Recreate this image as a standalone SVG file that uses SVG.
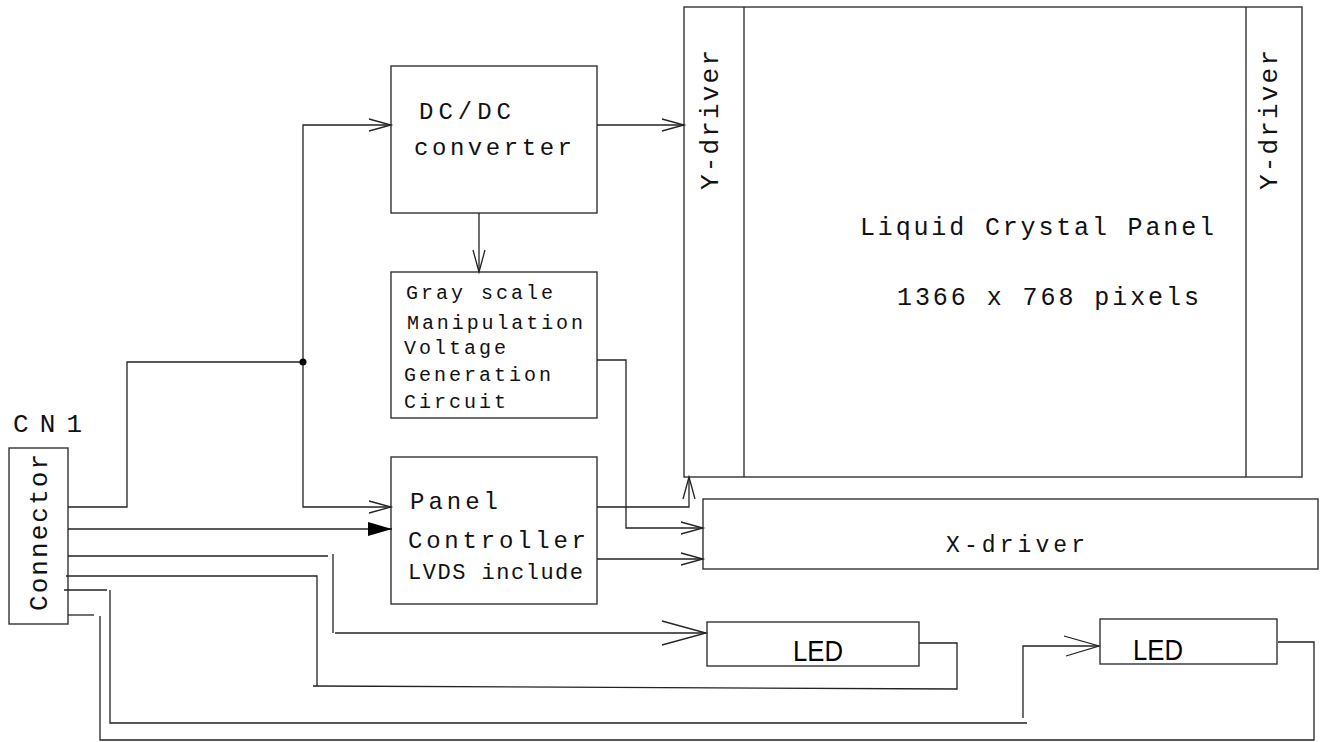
<svg xmlns="http://www.w3.org/2000/svg" width="1324" height="742" viewBox="0 0 1324 742">
<style>
.box{fill:none;stroke:#333;stroke-width:1.4}
.ln{fill:none;stroke:#222;stroke-width:1.3}
.t{font-family:"Liberation Mono","Courier New",monospace;fill:#111}
.led{font-family:"Liberation Sans",Arial,sans-serif;fill:#000}
</style>
<defs>
<marker id="open" markerUnits="userSpaceOnUse" markerWidth="26" markerHeight="16" refX="22" refY="7" orient="auto-start-reverse" overflow="visible">
<path d="M0,1 L22,7 L0,13" fill="none" stroke="#222" stroke-width="1.3"/>
</marker>
<marker id="openBig" markerUnits="userSpaceOnUse" markerWidth="48" markerHeight="28" refX="44" refY="12" orient="auto" overflow="visible">
<path d="M0,0 L44,12 L0,24" fill="none" stroke="#222" stroke-width="1.3"/>
</marker>
<marker id="openMid" markerUnits="userSpaceOnUse" markerWidth="40" markerHeight="24" refX="35" refY="10" orient="auto" overflow="visible">
<path d="M0,0 L35,10 L2,20" fill="none" stroke="#222" stroke-width="1.3"/>
</marker>
<marker id="filled" markerUnits="userSpaceOnUse" markerWidth="26" markerHeight="16" refX="24" refY="7" orient="auto" overflow="visible">
<path d="M0,0 L24,7 L0,14 Z" fill="#000"/>
</marker>
</defs>
<rect width="1324" height="742" fill="#fff"/>

<g id="lcd-panel">
<rect class="box" x="684" y="7" width="618" height="470"/>
<line class="box" x1="744" y1="7" x2="744" y2="477"/>
<line class="box" x1="1246" y1="7" x2="1246" y2="477"/>
<text class="t" font-size="25" x="860" y="235" textLength="354" lengthAdjust="spacing">Liquid Crystal Panel</text>
<text class="t" font-size="25" x="897" y="305" textLength="302" lengthAdjust="spacing">1366 x 768 pixels</text>
</g>
<g id="y-driver-left">
<text class="t" font-size="26" transform="translate(718,190) rotate(-90)" textLength="140" lengthAdjust="spacing">Y-driver</text>
</g>
<g id="y-driver-right">
<text class="t" font-size="26" transform="translate(1277,190) rotate(-90)" textLength="140" lengthAdjust="spacing">Y-driver</text>
</g>

<g id="dcdc">
<rect class="box" x="391" y="66" width="206" height="147"/>
<text class="t" font-size="24" x="419" y="119" textLength="92" lengthAdjust="spacing">DC/DC</text>
<text class="t" font-size="24" x="414" y="155" textLength="158" lengthAdjust="spacing">converter</text>
</g>

<g id="grayscale">
<rect class="box" x="391" y="272" width="206" height="146"/>
<text class="t" font-size="20" x="406" y="299" textLength="147" lengthAdjust="spacing">Gray scale</text>
<text class="t" font-size="20" x="407" y="329" textLength="176" lengthAdjust="spacing">Manipulation</text>
<text class="t" font-size="20" x="404" y="354" textLength="102" lengthAdjust="spacing">Voltage</text>
<text class="t" font-size="20" x="404" y="381" textLength="147" lengthAdjust="spacing">Generation</text>
<text class="t" font-size="20" x="404" y="408" textLength="102" lengthAdjust="spacing">Circuit</text>
</g>

<g id="panel-controller">
<rect class="box" x="391" y="457" width="206" height="147"/>
<text class="t" font-size="24" x="410" y="509" textLength="88" lengthAdjust="spacing">Panel</text>
<text class="t" font-size="24" x="408" y="548" textLength="178" lengthAdjust="spacing">Controller</text>
<text class="t" font-size="22" x="408" y="579" textLength="175" lengthAdjust="spacing">LVDS include</text>
</g>

<g id="x-driver">
<rect class="box" x="703" y="499" width="615" height="70"/>
<text class="t" font-size="23" x="946" y="552" textLength="139" lengthAdjust="spacing">X-driver</text>
</g>

<g id="connector">
<rect class="box" x="9" y="448" width="59" height="176"/>
<text class="t" font-size="26" transform="translate(47,611) rotate(-90)" textLength="157" lengthAdjust="spacing">Connector</text>
<text class="t" font-size="26" x="13" y="432" textLength="69" lengthAdjust="spacing">CN1</text>
</g>

<g id="led1">
<rect class="box" x="707" y="622" width="212" height="44"/>
<text class="led" font-size="29" x="793" y="661" textLength="50" lengthAdjust="spacingAndGlyphs">LED</text>
</g>
<g id="led2">
<rect class="box" x="1100" y="619" width="177" height="45"/>
<text class="led" font-size="29" x="1133" y="660" textLength="50" lengthAdjust="spacingAndGlyphs">LED</text>
</g>

<g id="connectors">
<path class="ln" d="M597,125 H684" marker-end="url(#open)"/>
<path class="ln" d="M391,125 H303 V507 H391" marker-start="url(#open)" marker-end="url(#open)"/>
<path class="ln" d="M68,507 H127 V362 H303"/>
<circle cx="303" cy="362" r="3.5" fill="#000"/>
<path class="ln" d="M479,213 V272" marker-end="url(#open)"/>
<path class="ln" d="M597,360 H626 V528 H703" marker-end="url(#open)"/>
<path class="ln" d="M597,507 H689 V477" marker-end="url(#open)"/>
<path class="ln" d="M597,559 H703" marker-end="url(#open)"/>
<path class="ln" d="M68,529 H392" stroke-width="1.6" marker-end="url(#filled)"/>
<path class="ln" d="M68,556 H328"/>
<path class="ln" d="M333,554 V633"/>
<path class="ln" d="M335,633 H706" marker-end="url(#openBig)"/>
<path class="ln" d="M66,576 H317 V686"/>
<path class="ln" d="M313,686 L957,689 V643 H919"/>
<path class="ln" d="M64,590 H107"/>
<path class="ln" d="M110,590 V723 H1027"/>
<path class="ln" d="M1023,718 V646 H1099" marker-end="url(#openMid)"/>
<path class="ln" d="M68,615 H94"/>
<path class="ln" d="M100,616 V740 H1314 V642 H1278"/>
</g>
</svg>
